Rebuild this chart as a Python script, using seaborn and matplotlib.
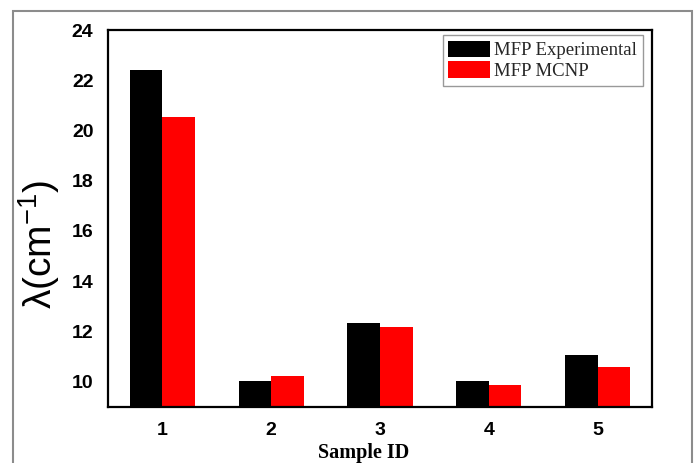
import matplotlib
matplotlib.use("Agg")
import matplotlib.pyplot as plt
import matplotlib.patches as mpatches
import seaborn as sns
import pandas as pd

sample_ids = ["1", "2", "3", "4", "5"]
mfp_experimental = [22.42, 10.02, 12.32, 10.02, 11.05]
mfp_mcnp = [20.52, 10.23, 12.16, 9.86, 10.59]
series_names = ["MFP Experimental", "MFP MCNP"]
y_ticks = [10, 12, 14, 16, 18, 20, 22, 24]

sns.set_theme(style="white")
plt.rcParams["font.family"] = ["Liberation Sans", "DejaVu Sans"]
plt.rcParams["mathtext.default"] = "regular"

df = pd.DataFrame({
    "Sample ID": sample_ids * 2,
    "value": mfp_experimental + mfp_mcnp,
    "series": [series_names[0]] * len(sample_ids) + [series_names[1]] * len(sample_ids),
})

fig = plt.figure(figsize=(6.95, 4.63), dpi=100)
ax = fig.add_axes([0.1554, 0.122, 0.7827, 0.8132])

sns.barplot(data=df, x="Sample ID", y="value", hue="series", ax=ax,
            palette=["#000000", "#ff0000"], width=0.6, saturation=1,
            edgecolor="none", linewidth=0, gap=0)

ax.set_xlim(-0.5, 4.5)
ax.set_ylim(9, 24)
ax.set_yticks(y_ticks)
ax.set_yticklabels([str(t) for t in y_ticks])

for sp in ax.spines.values():
    sp.set_visible(True)
    sp.set_color("black")
    sp.set_linewidth(1.6)

ax.tick_params(axis="both", length=0)
ax.tick_params(axis="x", pad=11.5)
ax.tick_params(axis="y", pad=10.5)
for lab in ax.get_xticklabels() + ax.get_yticklabels():
    lab.set_fontweight("bold")
    lab.set_fontsize(14)
    lab.set_color("black")

ax.set_xlabel("Sample ID", fontsize=14.5, fontweight="bold",
              family=["Liberation Serif", "DejaVu Serif"], color="black")
ax.xaxis.set_label_coords(0.47, -0.098)
ax.set_ylabel("λ(cm$^{-1}$)", fontsize=28, color="black")
ax.yaxis.set_label_coords(-0.084, 0.43)

leg = ax.legend(loc="upper right", bbox_to_anchor=(0.983, 0.987),
                borderaxespad=0, frameon=True, fancybox=False,
                prop={"family": ["Liberation Serif", "DejaVu Serif"], "size": 13.5},
                handlelength=2.2, handleheight=1.0, handletextpad=0.25,
                labelspacing=0.1, borderpad=0.3)
leg.get_frame().set_edgecolor("#808080")
leg.get_frame().set_linewidth(1.0)
leg.set_title(None)

# outer gray frame of the figure (bottom edge falls outside the image)
frame = mpatches.Rectangle((13 / 695, -0.05), (692 - 13) / 695, 1.05 - 11 / 463,
                           transform=fig.transFigure, fill=False,
                           edgecolor="#8c8c8c", linewidth=1.5, clip_on=False)
fig.patches.append(frame)

fig.savefig("out.png", dpi=100)
